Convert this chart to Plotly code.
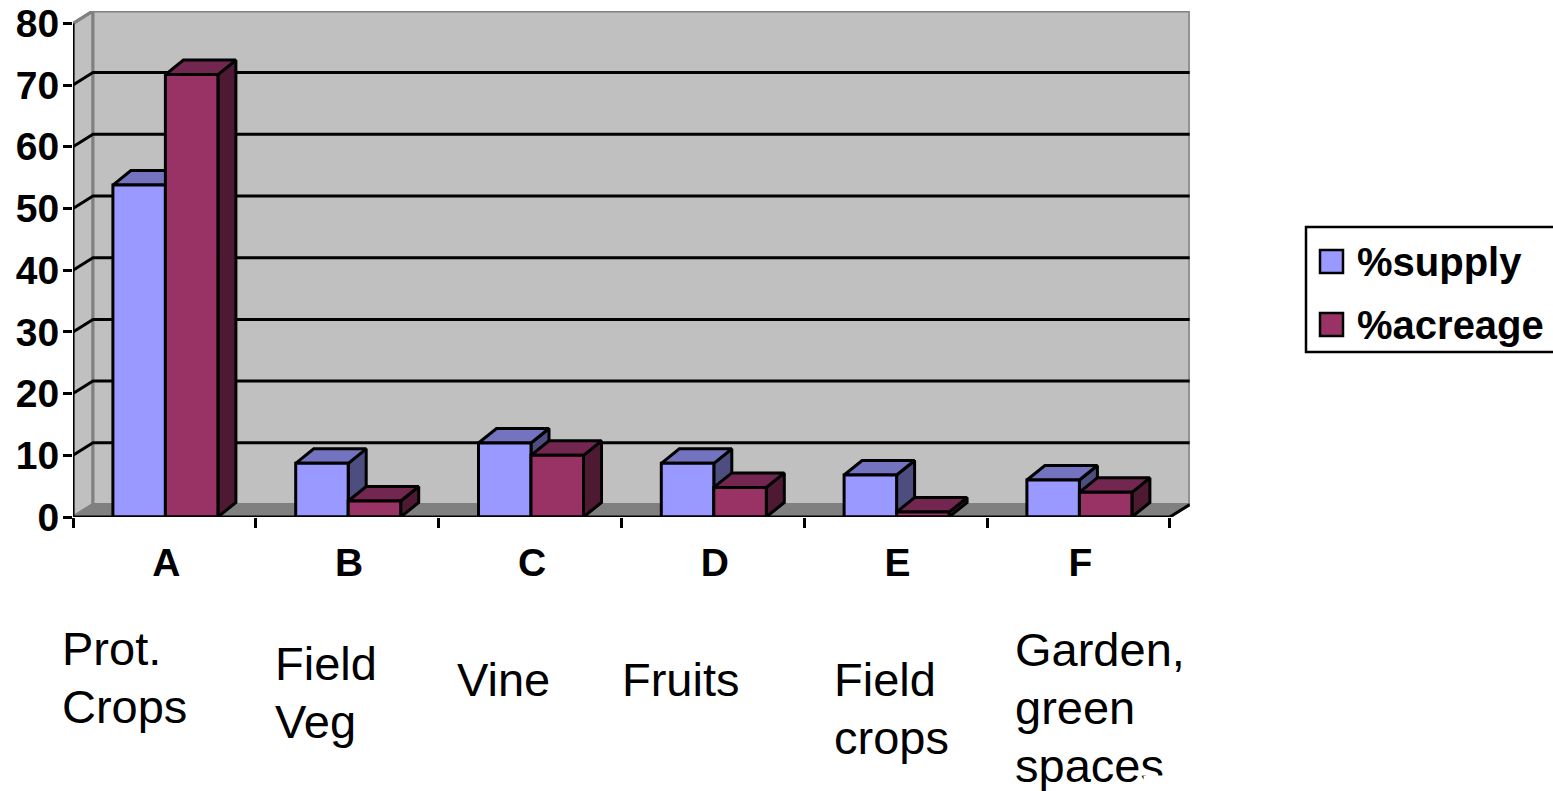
import plotly.graph_objects as go

# ---- data ----
categories = ["A", "B", "C", "D", "E", "F"]
supply = [53.8, 8.7, 12, 8.7, 6.8, 6]
acreage = [71.7, 2.6, 10, 4.8, 0.8, 4]
sector_labels = ["Prot.<br>Crops", "Field<br>Veg", "Vine", "Fruits", "Field<br>crops", "Garden,<br>green<br>spaces"]
y_ticks = [0, 10, 20, 30, 40, 50, 60, 70, 80]
series_names = ["%supply", "%acreage"]

# ---- style / layout ----
W, H = 1553, 791
X0, CAT_PX, Y0, VAL_PX = 73.0, 182.8, 517.0, 6.17
BOLD = "Liberation Sans"
FS = 39
BLUE, BLUE_TOP, BLUE_SIDE = "#9999FF", "#7373BF", "#4D4D80"
RED, RED_TOP, RED_SIDE = "#993366", "#732650", "#4D1933"
BAR_W = 52.5 / CAT_PX
SHIFT = 1.0 / CAT_PX
WALL_DX, WALL_DY = 20 / CAT_PX, 12.5 / VAL_PX
BAR_DX, BAR_DY = 18 / CAT_PX, 14.5 / VAL_PX
LW = 3
XL, XR = -0.5, len(categories) - 0.5
X_TOP = XR + WALL_DX
Y_TOP = y_ticks[-1] + WALL_DY

px = lambda x: x / W
py = lambda y: 1 - y / H

fig = go.Figure()


def poly(xs, ys, fill, line="black", lw=LW, z=0):
    fig.add_trace(go.Scatter(x=xs, y=ys, mode="lines", fill="toself", fillcolor=fill,
                             line=dict(color=line, width=lw), showlegend=False, hoverinfo="skip",
                             cliponaxis=False, zorder=z))


def path(xs, ys, color="black", lw=LW, z=0):
    fig.add_trace(go.Scatter(x=xs, y=ys, mode="lines", line=dict(color=color, width=lw),
                             showlegend=False, hoverinfo="skip", cliponaxis=False, zorder=z))


# walls and floor
poly([XL, XL + WALL_DX, XL + WALL_DX, XL, XL], [0, WALL_DY, Y_TOP, y_ticks[-1], 0], "#C0C0C0", "#808080")
poly([XL + WALL_DX, X_TOP, X_TOP, XL + WALL_DX, XL + WALL_DX], [WALL_DY, WALL_DY, Y_TOP, Y_TOP, WALL_DY], "#C0C0C0", "#808080")
poly([XL, XR, X_TOP, XL + WALL_DX, XL], [0, 0, WALL_DY, WALL_DY, 0], "#808080", "#808080")

# gridlines: back wall and diagonal on the side wall
gx, gy = [], []
for t in y_ticks[1:-1]:
    gx += [XL, XL + WALL_DX, X_TOP, None]
    gy += [t, t + WALL_DY, t + WALL_DY, None]
path(gx, gy)
path([XL, XL + WALL_DX], [y_ticks[-1], Y_TOP], "#808080")


def series(vals, off, front, top, side, name, z):
    off = off + SHIFT
    for i, v in enumerate(vals):
        l, r = i + off, i + off + BAR_W
        poly([r, r + BAR_DX, r + BAR_DX, r, r], [0, BAR_DY, v + BAR_DY, v, 0], side, z=z)
        poly([l, r, r + BAR_DX, l + BAR_DX, l], [v, v, v + BAR_DY, v + BAR_DY, v], top, z=z)
    fig.add_trace(go.Bar(x=list(range(len(vals))), y=vals, name=name, width=BAR_W, offset=off,
                         marker=dict(color=front, line=dict(color="black", width=LW)),
                         cliponaxis=False, showlegend=False, zorder=z + 1))


series(supply, -BAR_W, BLUE, BLUE_TOP, BLUE_SIDE, series_names[0], 1)
series(acreage, 0, RED, RED_TOP, RED_SIDE, series_names[1], 3)

# axis lines on top
path([XL, XL], [0, y_ticks[-1]], z=5)
path([XL, XR], [0, 0], z=5)
path([XR, X_TOP], [0, WALL_DY], z=5)

# sector names under the axis
line_step = 58
first_line_y = [648, 663, 679, 679, 679, 649]
label_x = [60, 273, 455, 620, 832, 1013]
ann = []
for lab, x, y in zip(sector_labels, label_x, first_line_y):
    for k, part in enumerate(lab.split("<br>")):
        ann.append(dict(x=px(x), y=py(y + k * line_step), xref="paper", yref="paper", text=part,
                        showarrow=False, xanchor="left", yanchor="middle", align="left",
                        font=dict(family="Liberation Sans", size=47, color="black")))

# the small white patch that cuts the last word
ann.append(dict(x=px(1143), y=py(775), xref="paper", yref="paper", text=" ", showarrow=False,
                xanchor="left", yanchor="top", bgcolor="white", width=40, height=14,
                font=dict(size=8), borderpad=0))

# legend
shapes = [dict(type="rect", xref="paper", yref="paper", x0=px(1306), x1=px(1560), y0=py(352), y1=py(227),
               line=dict(color="black", width=2.5), fillcolor="white", layer="above")]
for name, col, yc in zip(series_names, [BLUE, RED], [262, 325]):
    shapes.append(dict(type="rect", xref="paper", yref="paper", x0=px(1320), x1=px(1343), y0=py(yc + 11),
                       y1=py(yc - 12), line=dict(color="black", width=2.5), fillcolor=col, layer="above"))
    ann.append(dict(x=px(1355), y=py(yc), xref="paper", yref="paper", text=f"<b>{name}</b>", showarrow=False,
                    xanchor="left", yanchor="middle", font=dict(family=BOLD, size=40, color="black")))

fig.update_layout(
    width=W, height=H, margin=dict(l=0, r=0, t=0, b=0, autoexpand=False), paper_bgcolor="white", plot_bgcolor="rgba(0,0,0,0)",
    barmode="overlay", showlegend=False, shapes=shapes, annotations=ann,
    font=dict(family=BOLD, color="black"),
    xaxis=dict(domain=[px(X0), px(X0 + CAT_PX * (X_TOP - XL))], range=[XL, X_TOP], showgrid=False, zeroline=False,
               showline=False, tickmode="array", tickvals=[i + SHIFT * 2 for i in range(len(categories))],
               ticktext=[f"<b>{c}</b>" for c in categories],
               ticks="outside", ticklen=11, tickwidth=1, tickcolor="rgba(0,0,0,0)",
               tickfont=dict(family=BOLD, size=FS, color="black"),
               minor=dict(tickmode="array", tickvals=[i - 0.5 for i in range(len(categories) + 1)], ticks="outside",
                          ticklen=10, tickwidth=LW, tickcolor="black", showgrid=False)),
    yaxis=dict(domain=[py(Y0), py(Y0 - VAL_PX * Y_TOP)], range=[0, Y_TOP], showgrid=False, zeroline=False, showline=False,
               tickmode="array", tickvals=y_ticks, ticktext=[f"<b>{t}</b>" for t in y_ticks],
               ticks="outside", ticklen=9, tickwidth=LW, tickcolor="black", ticklabelstandoff=-4,
               tickfont=dict(family=BOLD, size=FS, color="black")),
)

fig.write_html("out.html", config={"displayModeBar": False},
               post_script="document.body.style.margin='0';document.body.style.overflow='hidden';")
